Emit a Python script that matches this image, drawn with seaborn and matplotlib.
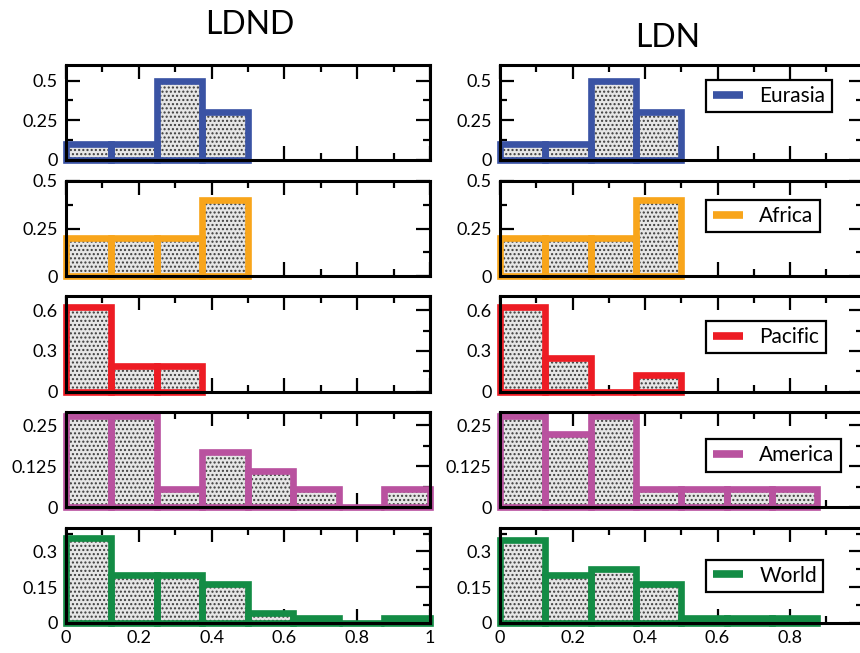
# -*- coding:utf-8 -*-

import pandas as pd
import matplotlib
matplotlib.use("Agg")
import matplotlib.pyplot as plt
from matplotlib.lines import Line2D
from matplotlib.ticker import MultipleLocator, FuncFormatter
import seaborn as sns

# bins are 0.125 wide, each series stops at its last drawn bin
bin_edges = [0, 0.125, 0.25, 0.375, 0.5, 0.625, 0.75, 0.875, 1.0]
methods = ["LDND", "LDN"]
regions = ["Eurasia", "Africa", "Pacific", "America", "World"]
colors = ["#3a53a4", "#f8a51b", "#ed1c24", "#b9529f", "#138c45"]

eurasia_ldnd = [0.1, 0.1, 0.5, 0.3]
eurasia_ldn = [0.1, 0.1, 0.5, 0.3]
africa_ldnd = [0.2, 0.2, 0.2, 0.4]
africa_ldn = [0.2, 0.2, 0.2, 0.4]
pacific_ldnd = [0.625, 0.1875, 0.1875]
pacific_ldn = [0.625, 0.25, 0, 0.125]
america_ldnd = [0.278, 0.278, 0.056, 0.167, 0.111, 0.056, 0, 0.056]
america_ldn = [0.278, 0.222, 0.278, 0.056, 0.056, 0.056, 0.056]
world_ldnd = [0.355, 0.2, 0.2, 0.165, 0.04, 0.02, 0, 0.02]
world_ldn = [0.35, 0.2, 0.225, 0.165, 0.02, 0.02, 0.02]

ldnd_values = [eurasia_ldnd, africa_ldnd, pacific_ldnd, america_ldnd, world_ldnd]
ldn_values = [eurasia_ldn, africa_ldn, pacific_ldn, america_ldn, world_ldn]

y_max = [0.6, 0.5, 0.7, 0.29, 0.4]
y_step = [0.25, 0.25, 0.3, 0.125, 0.15]
x_labels_ldnd = ["0", "0.2", "0.4", "0.6", "0.8", "1"]
x_labels_ldn = ["0", "0.2", "0.4", "0.6", "0.8", ""]


def draw_panel(ax, values, color):
    n = len(values)
    df = pd.DataFrame({"x": bin_edges[:n], "w": values})
    # dotted grey fill
    sns.histplot(data=df, x="x", weights="w", bins=bin_edges[:n + 1], ax=ax,
                 facecolor="#e6e6e6", edgecolor="#3c3c3c", linewidth=0,
                 hatch="....", alpha=1)
    # thick coloured outline
    sns.histplot(data=df, x="x", weights="w", bins=bin_edges[:n + 1], ax=ax,
                 fill=False, color=color, alpha=1, linewidth=4.8,
                 clip_on=False)


def show():
    sns.set_style("ticks")
    plt.rcParams["font.family"] = ["Lato", "DejaVu Sans"]
    plt.rcParams["path.simplify"] = False
    plt.rcParams["axes.edgecolor"] = "black"
    plt.rcParams["xtick.color"] = "black"
    plt.rcParams["ytick.color"] = "black"
    plt.rcParams["text.color"] = "black"

    fig = plt.figure(figsize=(8.6, 6.53), dpi=100)

    bottoms = [0.755, 0.577, 0.400, 0.223, 0.046]
    height = 0.146
    lefts = [0.0767, 0.5814]
    widths = [0.4233, 0.4216]
    legend_y = [0.67, 0.63, 0.576, 0.545, 0.495]
    fmt = FuncFormatter(lambda v, p: "%g" % round(v, 4))

    for col, data in enumerate([ldnd_values, ldn_values]):
        for row in range(5):
            ax = fig.add_axes([lefts[col], bottoms[row], widths[col], height])
            draw_panel(ax, data[row], colors[row])

            ax.set_xlim(0, 1)
            ax.set_ylim(0, y_max[row])
            ax.set_xlabel("")
            ax.set_ylabel("")
            ax.xaxis.set_major_locator(MultipleLocator(0.2))
            ax.xaxis.set_minor_locator(MultipleLocator(0.1))
            ax.yaxis.set_major_locator(MultipleLocator(y_step[row]))
            ax.yaxis.set_minor_locator(MultipleLocator(y_step[row] / 2))
            ax.yaxis.set_major_formatter(fmt)
            ax.tick_params(which="both", direction="in", top=True, right=True,
                           width=1.6, labelsize=13, colors="black")
            ax.tick_params(which="major", length=10)
            ax.tick_params(which="minor", length=5)
            ax.tick_params(axis="y", pad=6)
            ax.tick_params(axis="x", pad=5)
            for sp in ax.spines.values():
                sp.set_linewidth(2.2)
                sp.set_color("black")
                sp.set_zorder(3)

            if row == 4:
                ax.set_xticks([0, 0.2, 0.4, 0.6, 0.8, 1.0])
                ax.set_xticklabels(x_labels_ldnd if col == 0 else x_labels_ldn)
            else:
                ax.set_xticklabels([])

            if col == 1:
                handle = Line2D([0], [0], color=colors[row], lw=5.5,
                                solid_capstyle="butt")
                leg = ax.legend([handle], [regions[row]], loc="center left",
                                bbox_to_anchor=(0.569, legend_y[row]),
                                frameon=True, fancybox=False, framealpha=1,
                                edgecolor="black", fontsize=15,
                                handlelength=1.45, handletextpad=0.8,
                                borderpad=0.3, borderaxespad=0)
                leg.get_frame().set_linewidth(1.6)

    fig.text(0.2907, 0.9617, methods[0], ha="center", va="center", fontsize=23)
    fig.text(0.7767, 0.9418, methods[1], ha="center", va="center", fontsize=23)

    fig.savefig("out.png", dpi=100)


if __name__ == '__main__':
    show()
